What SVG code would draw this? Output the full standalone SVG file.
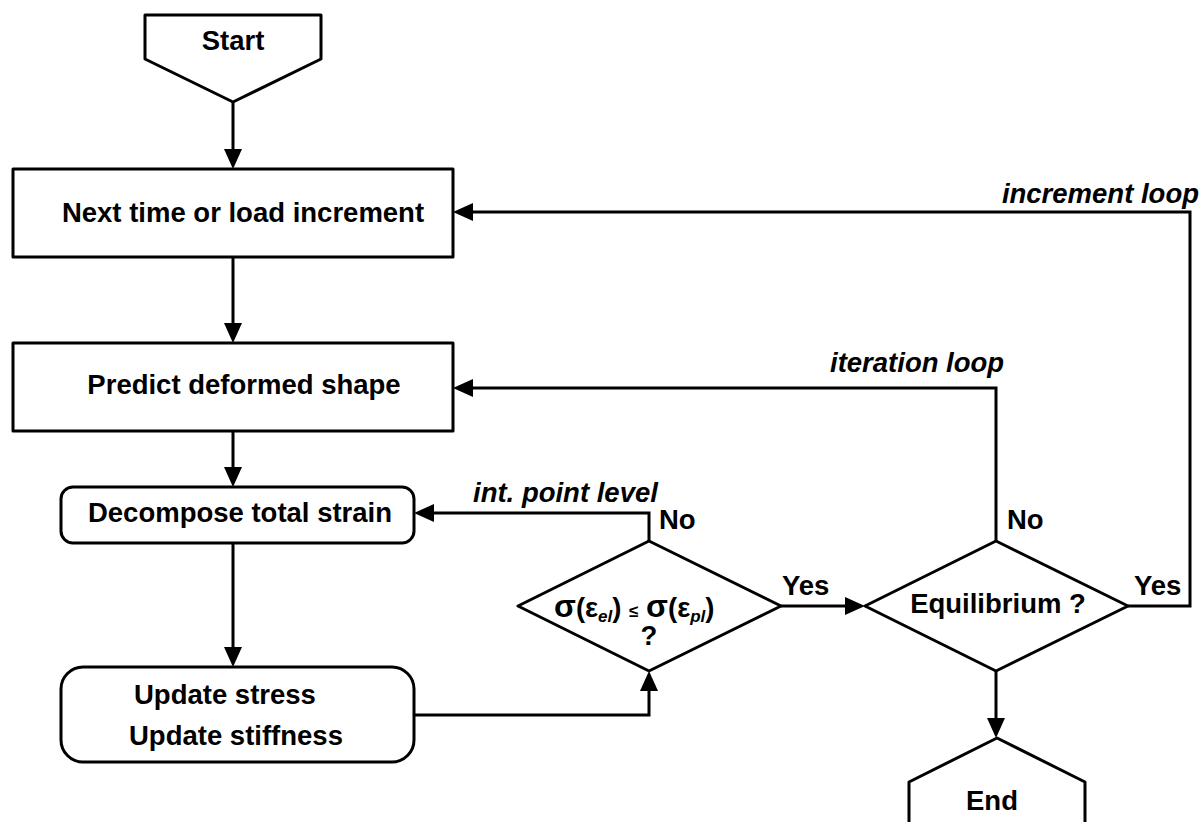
<svg xmlns="http://www.w3.org/2000/svg" width="1203" height="822" viewBox="0 0 1203 822">
  <defs>
    <marker id="arrow" markerUnits="userSpaceOnUse" markerWidth="20" markerHeight="18" refX="10" refY="9" orient="auto" overflow="visible">
      <path d="M0,0 L20,9 L0,18 Z" fill="#000"/>
    </marker>
    <style>
      .shape { fill: #fff; stroke: #000; stroke-width: 3; stroke-linejoin: round; }
      .conn { fill: none; stroke: #000; stroke-width: 3; marker-end: url(#arrow); }
      .txt { font-family: "Liberation Sans", Arial, sans-serif; font-weight: bold; font-size: 27.5px; fill: #000; }
      .lbl { font-family: "Liberation Sans", Arial, sans-serif; font-weight: bold; font-style: italic; font-size: 27.5px; fill: #000; }
      .mid { text-anchor: middle; }
      .sig { font-size: 32px; }
      .sub { font-style: italic; font-size: 17px; }
      .rel { font-size: 17px; }
    </style>
  </defs>
  <rect width="1203" height="822" fill="#fff"/>

  <!-- connectors -->
  <g id="connectors">
    <path class="conn" d="M233,102 V159"/>
    <path class="conn" d="M233,257 V333"/>
    <path class="conn" d="M233,431 V477"/>
    <path class="conn" d="M233,543 V657"/>
    <path class="conn" d="M414,715 H649 V681"/>
    <path class="conn" d="M649,541 V513 H424"/>
    <path class="conn" d="M781,606 H855"/>
    <path class="conn" d="M996,541 V388 H463"/>
    <path class="conn" d="M1128,606 H1190 V212 H463"/>
    <path class="conn" d="M996,671 V728"/>
    <text class="lbl" x="473" y="502">int. point level</text>
    <text class="txt" x="659" y="529">No</text>
    <text class="txt" x="782" y="595">Yes</text>
    <text class="lbl" x="830" y="372">iteration loop</text>
    <text class="txt" x="1007" y="529">No</text>
    <text class="txt" x="1134" y="595">Yes</text>
    <text class="lbl" x="1199" y="203" text-anchor="end">increment loop</text>
  </g>

  <!-- start terminal -->
  <g id="start">
    <polygon class="shape" points="145,15 321,15 321,59 233,102 145,59"/>
    <text class="txt mid" x="233" y="50">Start</text>
  </g>

  <g id="next-increment">
    <rect class="shape" x="13" y="169" width="440" height="88"/>
    <text class="txt mid" x="243" y="222">Next time or load increment</text>
  </g>

  <g id="predict-shape">
    <rect class="shape" x="13" y="343" width="440" height="88"/>
    <text class="txt mid" x="244" y="394">Predict deformed shape</text>
  </g>

  <g id="decompose-strain">
    <rect class="shape" x="61" y="487" width="353" height="56" rx="12" ry="12"/>
    <text class="txt mid" x="240" y="522">Decompose total strain</text>
  </g>

  <g id="update">
    <rect class="shape" x="61" y="667" width="353" height="95" rx="22" ry="22"/>
    <text class="txt" x="134" y="704">Update stress</text>
    <text class="txt" x="129" y="745">Update stiffness</text>
  </g>

  <!-- yield check decision -->
  <g id="yield-check">
    <polygon class="shape" points="649,541 781,606 649,671 518,606"/>
    <text class="txt" x="554" y="617"><tspan class="sig">σ</tspan>(ε<tspan class="sub" dy="5">el</tspan><tspan dy="-5">) </tspan><tspan class="rel">≤</tspan> <tspan class="sig">σ</tspan>(ε<tspan class="sub" dy="5">pl</tspan><tspan dy="-5">)</tspan></text>
    <text class="txt mid" x="649" y="645">?</text>
  </g>

  <!-- equilibrium decision -->
  <g id="equilibrium">
    <polygon class="shape" points="996,541 1128,606 996,671 865,606"/>
    <text class="txt mid" x="998" y="613">Equilibrium ?</text>
  </g>

  <!-- end terminal -->
  <g id="end">
    <polygon class="shape" points="997,738 1085,782 1085,830 909,830 909,782"/>
    <text class="txt mid" x="992" y="810">End</text>
  </g>
</svg>
